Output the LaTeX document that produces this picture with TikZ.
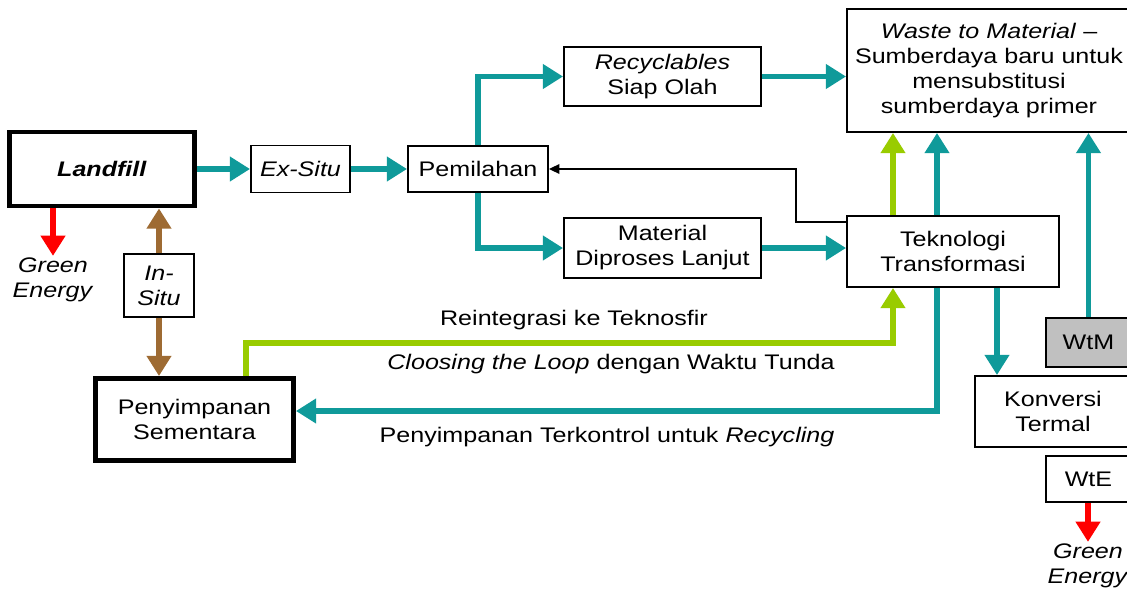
\documentclass[tikz,border=0pt]{standalone}
\usepackage{fontspec}
\setmainfont{Liberation Sans}[FakeStretch=1.19]
\usepackage{tikz}
\usetikzlibrary{arrows.meta,positioning,calc}
\definecolor{Teal}{HTML}{0F9A9A}
\definecolor{Lime}{HTML}{99CC00}
\definecolor{Brown}{HTML}{9E6B33}
\definecolor{Soft}{HTML}{C0C0C0}
\begin{document}
\begin{tikzpicture}[x=0.02cm,y=-0.02cm,
  every node/.style={align=center,font=\fontsize{12}{14.2}\selectfont},
  box/.style={draw,line width=1.1pt,inner sep=0pt},
  bigbox/.style={draw,line width=2.8pt,inner sep=0pt},
  fat/.style={line width=3pt,-{Triangle[length=11.5pt,width=13.5pt]}},
  tealarr/.style={fat,draw=Teal},
  limearr/.style={fat,draw=Lime},
  brownarr/.style={fat,draw=Brown},
  redarr/.style={fat,draw=red},
  thinarr/.style={line width=0.85pt,-{Triangle[length=6pt,width=5.5pt]}}]
  \clip (0,0) rectangle (1127,592);
  % boxes
  \node[bigbox,minimum width=3.7cm,minimum height=1.48cm] (landfill) at (102,169) {\textbf{\textit{Landfill}}};
  \node[box,minimum width=1.98cm,minimum height=0.94cm] (exsitu) at (300.5,169) {\textit{Ex-Situ}};
  \node[box,minimum width=2.8cm,minimum height=0.92cm] (pemilahan) at (478,169) {Pemilahan};
  \node[box,minimum width=3.94cm,minimum height=1.18cm] (recyc) at (662.5,76.5) {\textit{Recyclables}\\Siap Olah};
  \node[box,minimum width=3.94cm,minimum height=1.2cm] (material) at (662.5,248) {Material\\Diproses Lanjut};
  \node[box,minimum width=5.68cm,minimum height=2.46cm,text width=5.4cm] (waste) at (989,70.5)
    {\textit{Waste to Material} --\\Sumberdaya baru untuk\\mensubstitusi\\sumberdaya primer};
  \node[box,minimum width=4.24cm,minimum height=1.42cm] (teknologi) at (953,251.5) {Teknologi\\Transformasi};
  \node[box,minimum width=1.4cm,minimum height=1.26cm] (insitu) at (159,285.5) {\textit{In-}\\\textit{Situ}};
  \node[bigbox,minimum width=3.96cm,minimum height=1.64cm] (penyimpanan) at (194.5,419.5) {Penyimpanan\\Sementara};
  \node[box,fill=Soft,minimum width=1.7cm,minimum height=0.98cm] (wtm) at (1088.5,342.5) {WtM};
  \node[box,minimum width=3.12cm,minimum height=1.42cm] (konversi) at (1053,411.5) {Konversi\\Termal};
  \node[box,minimum width=1.7cm,minimum height=0.92cm] (wte) at (1088.5,479) {WtE};
  \node[inner sep=1pt] (ge1) at (53,280) {\textit{Green}\\\textit{Energy}};
  \node[inner sep=1pt] (ge2) at (1088,566) {\textit{Green}\\\textit{Energy}};
  % loop labels
  \node (lbl1) at (574,320) {Reintegrasi ke Teknosfir};
  \node (lbl2) at (611,364) {\textit{Cloosing the Loop} dengan Waktu Tunda};
  \node (lbl3) at (607,437) {Penyimpanan Terkontrol untuk \textit{Recycling}};
  % helper columns
  \coordinate (lx) at (893,0); \coordinate (tx) at (937,0);
  \coordinate (kx) at (997,0); \coordinate (ls) at (246,0);
  % connectors
  \draw[tealarr] (landfill) -- (exsitu); \draw[tealarr] (exsitu) -- (pemilahan);
  \draw[tealarr] (pemilahan.north) |- (recyc.west); \draw[tealarr] (pemilahan.south) |- (material.west);
  \draw[tealarr] (recyc.east) -- (recyc.east -| waste.west);
  \draw[tealarr] (material.east) -- (material.east -| teknologi.west);
  \draw[thinarr] ([yshift=-0.14cm]teknologi.north west) -- ++(-50,0) |- (pemilahan.east);
  \draw[limearr] (lx |- teknologi.north) -- (lx |- waste.south);
  \draw[tealarr] (tx |- teknologi.north) -- (tx |- waste.south);
  \draw[tealarr] (wtm.north) -- (wtm.north |- waste.south);
  \draw[limearr] (ls |- penyimpanan.north) -- ++(0,-33) -| (lx |- teknologi.south);
  \draw[tealarr] (tx |- teknologi.south) |- ([yshift=0.17cm]penyimpanan.east);
  \draw[tealarr] (kx |- teknologi.south) -- (kx |- konversi.north);
  \draw[brownarr] (insitu.north) -- (insitu.north |- landfill.south);
  \draw[brownarr] (insitu.south) -- (insitu.south |- penyimpanan.north);
  \draw[redarr] (ge1 |- landfill.south) -- (ge1.north);
  \draw[redarr] (wte.south -| ge2) -- (ge2.north);
\end{tikzpicture}
\end{document}
